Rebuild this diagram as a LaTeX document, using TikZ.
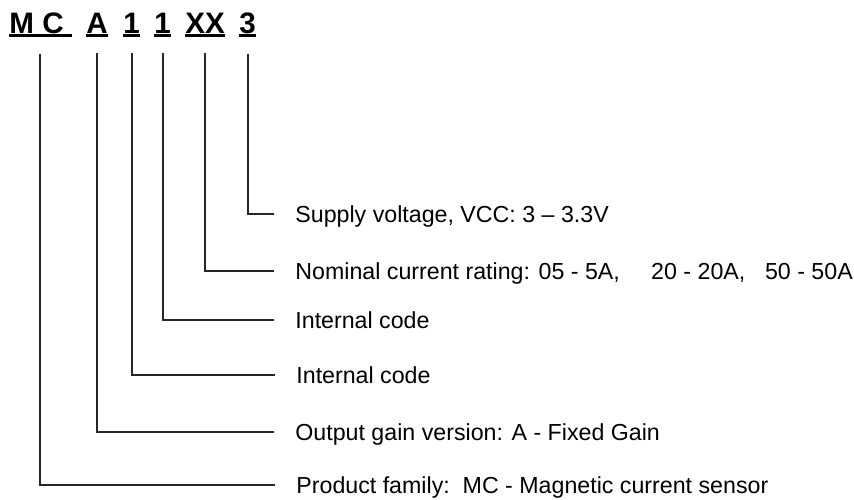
\documentclass[tikz,border=0pt]{standalone}
\usepackage{fontspec}
\setmainfont{Liberation Sans}
\tikzset{
  code/.style={font=\bfseries\fontsize{14.8}{17}\selectfont, anchor=base west, inner sep=0pt},
  desc/.style={font=\fontsize{11.6}{13}\selectfont, anchor=west, inner xsep=10.5pt, inner ysep=0pt, text height=10pt, text depth=2pt},
  lead/.style={line width=1pt, draw=black!85},
  uline/.style={line width=1.5pt}
}
\begin{document}
\begin{tikzpicture}[x=0.5pt,y=-0.5pt]
      \useasboundingbox (0,0) rectangle (854,499);
      \node[code] (mc) at (9,33) {M C\hspace*{3.9pt}};
      \node[code] (a) at (86,33) {A};
      \node[code] (one) at (123,33) {1};
      \node[code] (two) at (154,33) {1};
      \node[code] (xx) at (185,33) {XX};
      \node[code] (three) at (239,33) {3};
      \foreach \n in {mc,a,one,two,xx,three}
        \draw[uline] ([yshift=-1pt]\n.base west) -- ([yshift=-1pt]\n.base east);
      \node[desc] (dthree) at (274,214) {Supply voltage, VCC: 3 – 3.3V};
      \node[desc] (dxx) at (274,271) {Nominal current rating: 05 - 5A,\hspace{1.35em}20 - 20A,\hspace{0.85em}50 - 50A};
      \node[desc] (dtwo) at (274,320) {Internal code};
      \node[desc] (done) at (275,375) {Internal code};
      \node[desc] (da) at (274,432) {Output gain version: A - Fixed Gain};
      \node[desc] (dmc) at (275,485) {Product family:\ \ MC - Magnetic current sensor};
      \foreach \c/\d in {three/dthree,xx/dxx,two/dtwo,one/done,a/da,mc/dmc}
        \draw[lead] ([yshift=-10pt]\c.south) |- (\d.west);
\end{tikzpicture}
\end{document}
